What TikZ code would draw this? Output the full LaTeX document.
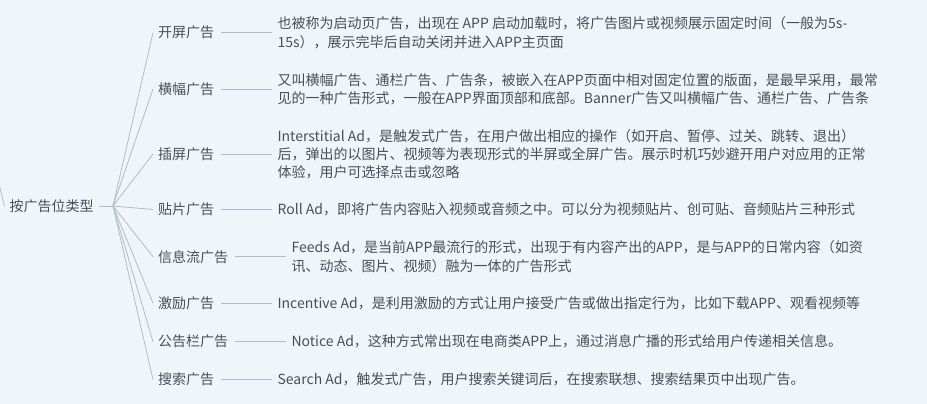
\documentclass[tikz,border=0pt]{standalone}
\usepackage{fontspec}
\newfontfamily\cjk{Noto Sans CJK SC}
\usetikzlibrary{positioning}

\begin{document}
\begin{tikzpicture}[x=1pt, y=-1pt,
    baseText/.style={font=\cjk\fontsize{14}{18.2}\selectfont, text=textColour, inner ysep=2pt},
    rootNode/.style={baseText, anchor=west, inner xsep=5pt},
    catNode/.style={baseText, anchor=west, inner xsep=5pt},
    descNode/.style={baseText, align=left, inner xsep=5pt, right=53pt of #1},
    branchLine/.style={draw=lineColour, line width=0.8pt}]
    % Define colours
    \definecolor{bgColour}{HTML}{EFF5FA}
    \definecolor{textColour}{HTML}{4A4F57}
    \definecolor{lineColour}{HTML}{B4BBC3}

    % Background and picture size
    \fill[bgColour] (0,0) rectangle (927,404);
    \useasboundingbox (0,0) rectangle (927,404);
    \clip (0,0) rectangle (927,404);

    % Root node and its parent stub
    \node[rootNode] (root) at (4.5,206) {按广告位类型};
    \coordinate (parentStub) at (-2,180);
    \coordinate (fanOrigin) at (113,206);
    \draw[branchLine] (parentStub) -- (root.west);
    \draw[branchLine] (root.east) -- (fanOrigin);

    % Categories
    \node[catNode] (kaiping)    at (153,32.7)  {开屏广告};
    \node[catNode] (hengfu)     at (153,89)    {横幅广告};
    \node[catNode] (chaping)    at (153,154)   {插屏广告};
    \node[catNode] (tiepian)    at (153,209.5) {贴片广告};
    \node[catNode] (xinxiliu)   at (153,256.7) {信息流广告};
    \node[catNode] (jili)       at (153,303.3) {激励广告};
    \node[catNode] (gonggaolan) at (153,341.7) {公告栏广告};
    \node[catNode] (sousuo)     at (153,379.5) {搜索广告};

    % Descriptions
    \node[descNode=kaiping] (kaipingText) {也被称为启动页广告，出现在 APP 启动加载时，将广告图片或视频展示固定时间（一般为5s-\\15s），展示完毕后自动关闭并进入APP主页面};
    \node[descNode=hengfu] (hengfuText) {又叫横幅广告、通栏广告、广告条，被嵌入在APP页面中相对固定位置的版面，是最早采用，最常\\见的一种广告形式，一般在APP界面顶部和底部。Banner广告又叫横幅广告、通栏广告、广告条};
    \node[descNode=chaping] (chapingText) {Interstitial Ad，是触发式广告，在用户做出相应的操作（如开启、暂停、过关、跳转、退出）\\后，弹出的以图片、视频等为表现形式的半屏或全屏广告。展示时机巧妙避开用户对应用的正常\\体验，用户可选择点击或忽略};
    \node[descNode=tiepian] (tiepianText) {Roll Ad，即将广告内容贴入视频或音频之中。可以分为视频贴片、创可贴、音频贴片三种形式};
    \node[descNode=xinxiliu] (xinxiliuText) {Feeds Ad，是当前APP最流行的形式，出现于有内容产出的APP，是与APP的日常内容（如资\\讯、动态、图片、视频）融为一体的广告形式};
    \node[descNode=jili] (jiliText) {Incentive Ad，是利用激励的方式让用户接受广告或做出指定行为，比如下载APP、观看视频等};
    \node[descNode=gonggaolan] (gonggaolanText) {Notice Ad，这种方式常出现在电商类APP上，通过消息广播的形式给用户传递相关信息。};
    \node[descNode=sousuo] (sousuoText) {Search Ad，触发式广告，用户搜索关键词后，在搜索联想、搜索结果页中出现广告。};

    % Draw connectors
    \foreach \cat in {kaiping,hengfu,chaping,tiepian,xinxiliu,jili,gonggaolan,sousuo} {
        \draw[branchLine] (fanOrigin) -- (\cat.west);
        \draw[branchLine] ([xshift=1.5pt]\cat.east) -- (\cat Text.west);
    }

\end{tikzpicture}
\end{document}
